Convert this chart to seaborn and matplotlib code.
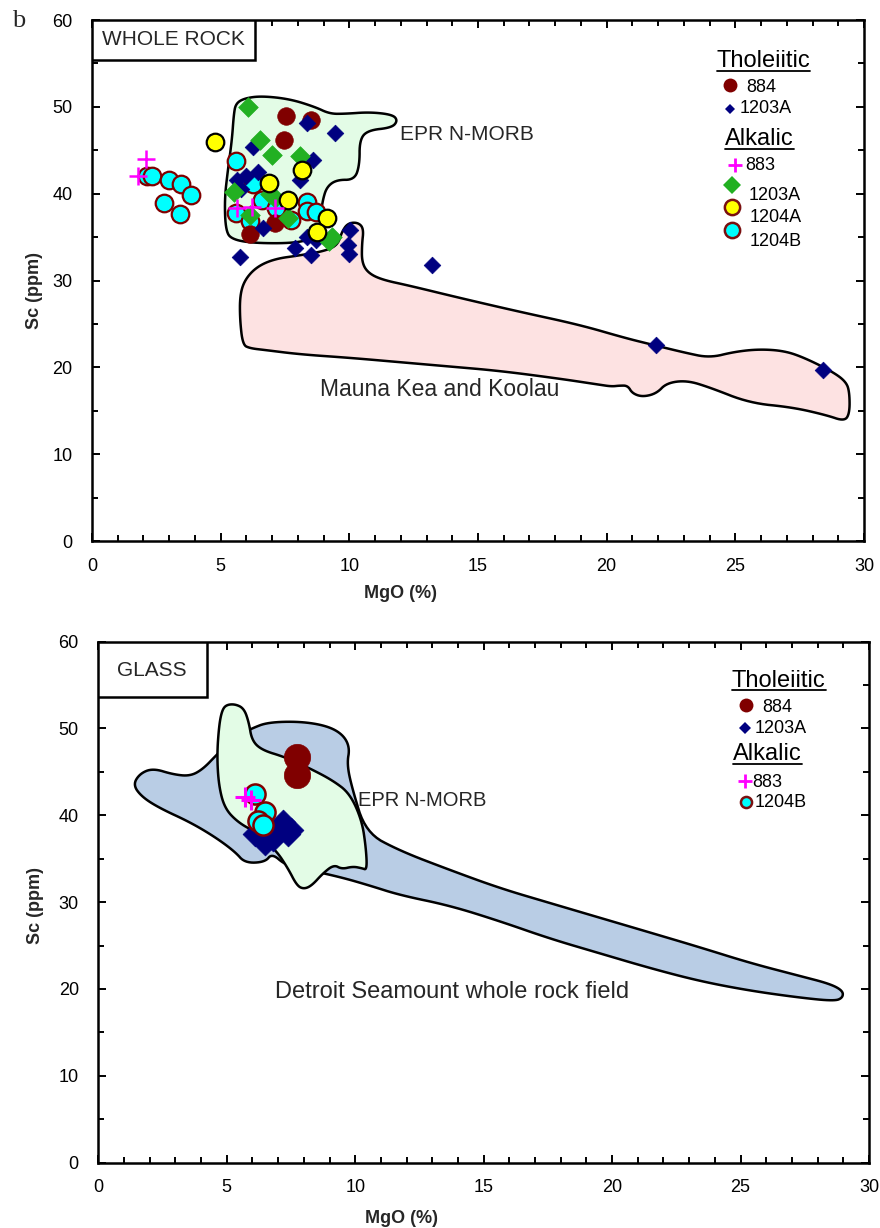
import numpy as np
import matplotlib
matplotlib.use("Agg")
import matplotlib.pyplot as plt
from matplotlib.patches import Polygon, Rectangle
from matplotlib.ticker import MultipleLocator
import seaborn as sns

# ---------------- whole rock samples (MgO %, Sc ppm) ----------------
wr_884_mgo = [7.53, 8.53, 7.46, 6.16, 7.13]
wr_884_sc = [48.9, 48.5, 46.2, 35.4, 36.6]

wr_1203a_th_mgo = [8.34, 9.44, 6.24, 8.6, 8.1, 6.46, 5.62, 6.0, 5.8, 6.65, 5.75,
                   7.88, 8.53, 8.34, 8.72, 10.02, 9.95, 10.0, 13.2, 21.9, 28.4]
wr_1203a_th_sc = [48.1, 46.95, 45.4, 43.9, 41.6, 42.5, 41.6, 42.0, 40.5, 36.0, 32.7,
                  33.7, 32.9, 35.0, 34.7, 35.8, 34.1, 33.1, 31.8, 22.6, 19.7]

wr_883_mgo = [2.1, 1.8, 5.62, 6.2, 7.1]
wr_883_sc = [44.0, 42.0, 38.4, 38.5, 38.4]

wr_1203a_alk_mgo = [6.07, 6.52, 6.98, 8.08, 5.51, 6.91, 7.1, 6.14, 7.62, 9.31, 9.22]
wr_1203a_alk_sc = [50.0, 46.2, 44.5, 44.3, 40.2, 40.0, 39.5, 37.5, 37.2, 35.0, 34.5]

wr_1204a_mgo = [4.78, 8.17, 6.87, 7.62, 9.14, 8.76]
wr_1204a_sc = [45.9, 42.7, 41.2, 39.3, 37.2, 35.6]

wr_1204b_mgo = [2.12, 2.32, 3.0, 3.46, 3.84, 2.8, 3.44, 5.58, 5.58, 6.24, 6.6,
                6.15, 7.17, 7.75, 8.36, 8.34, 8.72]
wr_1204b_sc = [42.0, 42.0, 41.6, 41.1, 39.8, 38.9, 37.7, 43.8, 37.8, 41.1, 39.3,
               36.9, 38.3, 37.0, 39.1, 38.0, 37.9]

# ---------------- glass samples ----------------
gl_884_mgo = [7.72, 7.72]
gl_884_sc = [46.7, 44.6]
gl_1203a_mgo = [6.1, 6.5, 6.8, 7.0, 7.2, 7.4, 7.5]
gl_1203a_sc = [37.8, 36.8, 37.3, 38.0, 39.2, 37.8, 38.3]
gl_883_mgo = [5.7, 5.95]
gl_883_sc = [42.1, 41.8]
gl_1204b_mgo = [6.1, 6.5, 6.2, 6.4]
gl_1204b_sc = [42.5, 40.4, 39.3, 38.9]

# ---------------- reference fields (outline vertices, MgO / Sc) ----------------
epr_wr_mgo = [5.59, 5.94, 6.6, 7.69, 8.66, 9.24, 9.83, 10.8, 11.69, 11.88, 11.65, 10.72,
              10.4, 10.4, 10.2, 9.51, 9.13, 8.97, 8.89, 8.93, 8.66, 7.88, 6.33, 5.48,
              5.2, 5.15, 5.28, 5.44, 5.51]
epr_wr_sc = [50.4, 51.0, 51.25, 50.9, 50.0, 49.2, 49.2, 49.4, 49.1, 48.4, 47.6, 47.3,
             46.2, 43.3, 41.6, 41.6, 40.8, 39.3, 37.5, 36.0, 34.9, 34.3, 34.3, 34.7,
             35.6, 39.3, 42.7, 46.2, 49.1]

hawaii_mgo = [5.86, 5.75, 5.75, 5.94, 6.41, 7.11, 8.08, 9.05, 9.55, 9.71, 9.94, 10.33,
              10.56, 10.49, 10.49, 10.72, 11.26, 12.35, 14.29, 16.62, 18.95, 20.7, 21.79,
              23.03, 24.0, 24.97, 25.94, 26.91, 27.69, 28.78, 29.32, 29.44, 29.44, 29.24,
              28.54, 27.22, 25.55, 24.0, 23.11, 22.33, 21.94, 21.4, 21.0, 20.82, 20.5,
              20.19, 19.73, 18.17, 15.84, 13.9, 11.96, 10.02, 8.08, 6.72, 6.14]
hawaii_sc = [22.6, 25.5, 28.3, 30.1, 31.6, 32.5, 32.9, 33.4, 34.1, 35.6, 36.6, 36.7,
             36.0, 34.1, 32.1, 30.9, 30.1, 29.4, 28.0, 26.4, 24.9, 23.4, 22.6,
             21.7, 21.1, 21.8, 22.1, 21.9, 21.1, 19.5, 18.3, 17.0, 14.7, 13.8,
             14.5, 15.4, 15.9, 17.7, 18.5, 18.2, 17.0, 16.6, 17.0, 17.9, 17.9,
             17.8, 18.0, 18.7, 19.6, 20.1, 20.6, 21.1, 21.5, 22.0, 22.2]

epr_gl_mgo = [4.97, 5.32, 5.67, 5.86, 5.98, 6.37, 7.26, 8.23, 9.13, 9.79, 10.26, 10.42,
              10.46, 10.26, 9.91, 9.48, 9.17, 8.74, 8.31, 8.0, 7.73, 7.38, 6.91, 6.09,
              5.43, 4.92, 4.69, 4.62, 4.7, 4.81]
epr_gl_sc = [52.7, 52.8, 52.3, 50.7, 48.6, 47.5, 46.7, 45.4, 44.0, 42.5, 39.4, 36.2,
             33.7, 33.9, 34.1, 33.8, 34.3, 33.3, 31.9, 31.5, 31.9, 33.9, 36.0, 38.1,
             39.2, 40.8, 43.4, 46.9, 50.3, 52.0]

detroit_mgo = [1.35, 1.62, 2.13, 2.91, 3.57, 4.07, 4.62, 5.32, 5.98, 6.6, 7.85, 8.9, 9.52,
               9.79, 9.68, 9.87, 10.41, 11.74, 13.68, 15.63, 17.57, 19.52, 21.47, 23.41,
               25.36, 27.3, 28.47, 28.98, 28.98, 28.66, 27.3, 25.36, 23.41, 21.47, 19.52,
               17.57, 15.63, 13.68, 11.74, 10.57, 9.4, 7.85, 7.27, 6.76, 6.49, 5.71, 5.32,
               4.54, 3.57, 2.4, 1.7]
detroit_sc = [43.5, 44.8, 45.4, 44.7, 44.5, 45.3, 47.0, 49.0, 50.0, 50.7, 50.8, 50.3, 49.3,
              47.8, 45.9, 43.2, 38.0, 35.9, 33.7, 31.6, 29.9, 28.2, 26.5, 24.8,
              23.0, 21.5, 20.6, 19.8, 19.0, 18.6, 19.0, 19.8, 20.9, 22.4, 24.1,
              25.8, 27.8, 29.6, 30.8, 31.9, 32.9, 33.9, 34.3, 35.6, 34.6, 34.5, 35.8,
              37.5, 39.2, 40.8, 42.1]

# ---------------- style ----------------
sns.set_theme(style="ticks")
plt.rcParams["font.family"] = ["Liberation Sans", "DejaVu Sans"]
plt.rcParams["axes.linewidth"] = 1.8

MAROON = "#800000"
NAVY = "#000080"
GREEN = "#22B022"
MAGENTA = "#FF00FF"
YELLOW = "#FFFF00"
CYAN = "#00FFFF"
MINT = "#E3FCE6"
PINK = "#FDE2E2"
BLUE = "#B9CDE5"

fig = plt.figure(figsize=(8.8, 12.28), dpi=100)
ax1 = fig.add_axes([0.1045, 0.5594, 0.8773, 0.4243])
ax2 = fig.add_axes([0.1117, 0.0532, 0.8758, 0.4244])


def chaikin(xs, ys, n=3):
    pts = np.column_stack([xs, ys]).astype(float)
    for _ in range(n):
        nxt = np.roll(pts, -1, axis=0)
        q = 0.75 * pts + 0.25 * nxt
        r = 0.25 * pts + 0.75 * nxt
        out = np.empty((2 * len(pts), 2))
        out[0::2] = q
        out[1::2] = r
        pts = out
    return pts


def field(ax, xs, ys, color, z=1):
    ax.add_patch(Polygon(chaikin(xs, ys), closed=True, facecolor=color,
                         edgecolor="black", linewidth=1.8, joinstyle="round", zorder=z))


def style_axes(ax):
    ax.set_xlim(0, 30)
    ax.set_ylim(0, 60)
    ax.xaxis.set_major_locator(MultipleLocator(5))
    ax.xaxis.set_minor_locator(MultipleLocator(1))
    ax.yaxis.set_major_locator(MultipleLocator(10))
    ax.yaxis.set_minor_locator(MultipleLocator(5))
    ax.tick_params(which="both", direction="in", top=True, right=True,
                   width=1.4, colors="black", labelsize=13)
    ax.tick_params(which="major", length=6)
    ax.tick_params(which="minor", length=4)
    ax.tick_params(axis="x", which="major", pad=12)
    ax.tick_params(axis="y", which="major", pad=14)
    for s in ax.spines.values():
        s.set_color("black")
        s.set_linewidth(1.8)
    ax.set_facecolor("white")


def pts(ax, x, y, marker, color, size, edge=None, lw=0.0, z=3):
    sns.scatterplot(x=x, y=y, ax=ax, marker=marker, color=color, s=size,
                    edgecolor=edge if edge is not None else color,
                    linewidth=lw, zorder=z, legend=False)


def lmark(ax, x, y, marker, color, ms, edge=None, mew=0.0):
    ax.plot([x], [y], marker=marker, color=color, ms=ms, mec=edge or color,
            mew=mew, ls="none", transform=ax.transAxes, clip_on=False, zorder=6)


def ltext(ax, x, y, s, size=13):
    return ax.text(x, y, s, transform=ax.transAxes, ha="left", va="baseline",
                   fontsize=size, color="black", zorder=6)


# ---------------- WHOLE ROCK panel ----------------
style_axes(ax1)
field(ax1, hawaii_mgo, hawaii_sc, PINK)
field(ax1, epr_wr_mgo, epr_wr_sc, MINT)

pts(ax1, wr_1204b_mgo, wr_1204b_sc, "o", CYAN, 160, MAROON, 1.6, z=3)
pts(ax1, wr_884_mgo, wr_884_sc, "o", MAROON, 160, MAROON, 0.5, z=4)
pts(ax1, wr_1203a_th_mgo, wr_1203a_th_sc, "D", NAVY, 72, NAVY, 0.5, z=5)
pts(ax1, wr_1203a_alk_mgo, wr_1203a_alk_sc, "D", GREEN, 100, GREEN, 0.5, z=6)
pts(ax1, wr_1204a_mgo, wr_1204a_sc, "o", YELLOW, 160, "black", 1.6, z=7)
pts(ax1, wr_883_mgo, wr_883_sc, "+", MAGENTA, 150, None, 1.8, z=8)

ax1.text(11.96, 46.8, "EPR N-MORB", fontsize=15, ha="left", va="center", zorder=9)
ax1.text(8.85, 17.5, "Mauna Kea and Koolau", fontsize=16.5, ha="left", va="center", zorder=9)

ax1.add_patch(Rectangle((0, 0.923), 0.211, 0.077, transform=ax1.transAxes,
                        facecolor="white", edgecolor="black", linewidth=1.8, zorder=10))
ax1.text(0.1056, 0.9625, "WHOLE ROCK", transform=ax1.transAxes, fontsize=15,
         ha="center", va="center", zorder=11)

h1a = ltext(ax1, 0.809, 0.910, "Tholeiitic", 17)
lmark(ax1, 0.827, 0.875, "o", MAROON, 10)
ltext(ax1, 0.848, 0.862, "884")
lmark(ax1, 0.827, 0.829, "D", NAVY, 5.5)
ltext(ax1, 0.839, 0.821, "1203A")
h1b = ltext(ax1, 0.820, 0.760, "Alkalic", 17)
lmark(ax1, 0.833, 0.722, "+", MAGENTA, 10, mew=2)
ltext(ax1, 0.846, 0.712, "883")
lmark(ax1, 0.829, 0.683, "D", GREEN, 9)
ltext(ax1, 0.850, 0.654, "1203A")
lmark(ax1, 0.829, 0.642, "o", YELLOW, 11, "#7a1010", 1.8)
ltext(ax1, 0.852, 0.613, "1204A")
lmark(ax1, 0.829, 0.597, "o", CYAN, 11, "#7a1010", 1.8)
ltext(ax1, 0.852, 0.567, "1204B")

ax1.set_xlabel("MgO (%)", fontsize=13, fontweight="bold")
ax1.set_ylabel("Sc (ppm)", fontsize=13, fontweight="bold")
ax1.xaxis.set_label_coords(0.40, -0.084)
ax1.yaxis.set_label_coords(-0.064, 0.48)

# ---------------- GLASS panel ----------------
style_axes(ax2)
field(ax2, detroit_mgo, detroit_sc, BLUE)
field(ax2, epr_gl_mgo, epr_gl_sc, MINT)

pts(ax2, gl_884_mgo, gl_884_sc, "o", MAROON, 360, MAROON, 0.5, z=3)
pts(ax2, gl_1203a_mgo, gl_1203a_sc, "D", NAVY, 160, NAVY, 0.5, z=4)
pts(ax2, gl_1204b_mgo, gl_1204b_sc, "o", CYAN, 210, MAROON, 1.8, z=5)
pts(ax2, gl_883_mgo, gl_883_sc, "+", MAGENTA, 200, None, 2.2, z=6)

ax2.text(10.1, 41.7, "EPR N-MORB", fontsize=14.5, ha="left", va="center", zorder=9)
ax2.text(6.88, 19.6, "Detroit Seamount whole rock field", fontsize=17,
         ha="left", va="center", zorder=9)

ax2.add_patch(Rectangle((0, 0.8935), 0.141, 0.1065, transform=ax2.transAxes,
                        facecolor="white", edgecolor="black", linewidth=1.8, zorder=10))
ax2.text(0.07, 0.945, "GLASS", transform=ax2.transAxes, fontsize=15,
         ha="center", va="center", zorder=11)

h2a = ltext(ax2, 0.822, 0.913, "Tholeiitic", 17)
lmark(ax2, 0.840, 0.878, "o", MAROON, 10)
ltext(ax2, 0.861, 0.865, "884")
lmark(ax2, 0.839, 0.834, "D", NAVY, 6)
ltext(ax2, 0.852, 0.825, "1203A")
h2b = ltext(ax2, 0.824, 0.7726, "Alkalic", 17)
lmark(ax2, 0.839, 0.733, "+", MAGENTA, 10, mew=2)
ltext(ax2, 0.849, 0.721, "883")
lmark(ax2, 0.840, 0.693, "o", CYAN, 8, "#7a1010", 1.8)
ltext(ax2, 0.852, 0.682, "1204B")

ax2.set_xlabel("MgO (%)", fontsize=13, fontweight="bold")
ax2.set_ylabel("Sc (ppm)", fontsize=13, fontweight="bold")
ax2.xaxis.set_label_coords(0.394, -0.091)
ax2.yaxis.set_label_coords(-0.070, 0.494)

fig.text(0.014, 1 - 27 / 1228, "b", fontsize=19, family=["Liberation Serif", "DejaVu Serif"],
         ha="left", va="baseline")

# underline the legend group headings
fig.canvas.draw()
renderer = fig.canvas.get_renderer()
for ax, t in [(ax1, h1a), (ax1, h1b), (ax2, h2a), (ax2, h2b)]:
    bb = t.get_window_extent(renderer)
    inv = ax.transAxes.inverted()
    (x0, _), (x1, _) = inv.transform([[bb.x0, bb.y0], [bb.x1, bb.y1]])
    yb = t.get_position()[1] - 0.007
    ax.plot([x0, x1], [yb, yb], color="black", lw=1.3, transform=ax.transAxes,
            clip_on=False, zorder=6)

fig.savefig("out.png", dpi=100)
